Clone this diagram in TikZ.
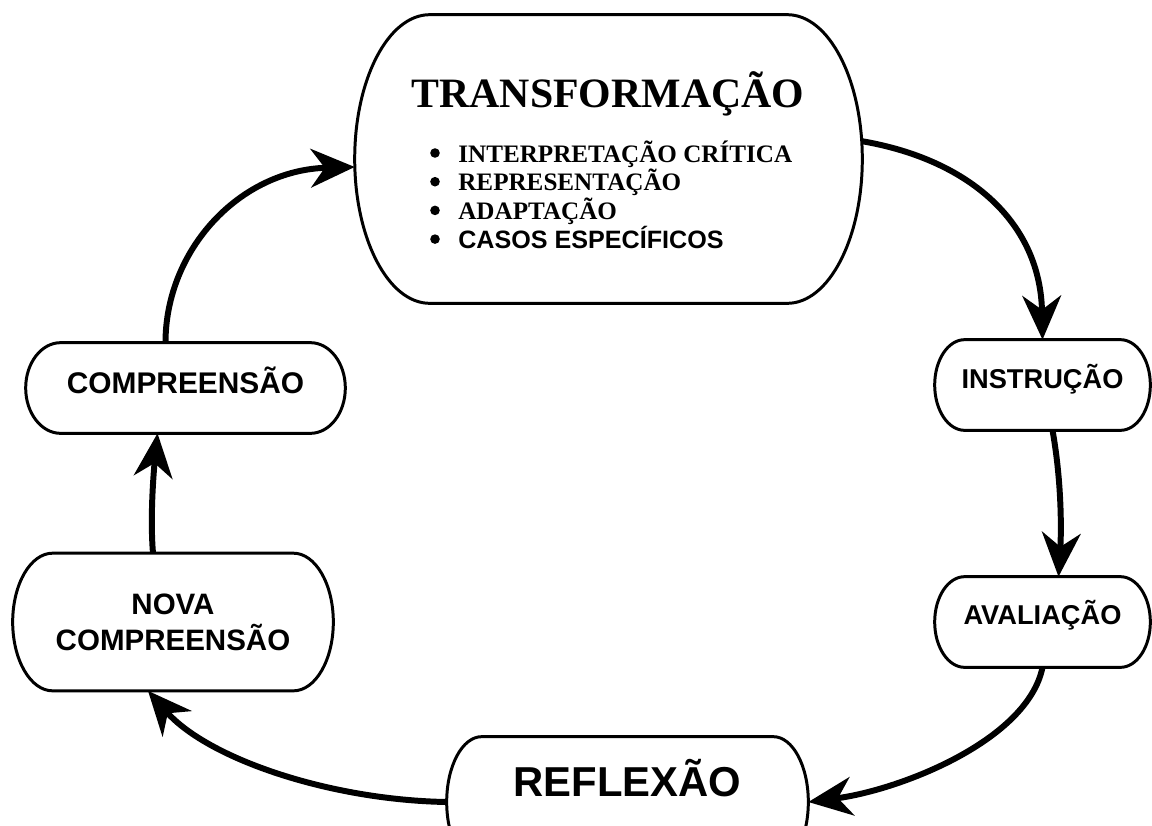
\documentclass[tikz,border=0pt]{standalone}
\usepackage{fontspec}
\setmainfont{Liberation Serif}
\setsansfont{Liberation Sans}
\usetikzlibrary{arrows.meta,calc}

% outline with elliptic ends round a node
\newcommand{\termline}[2]{%
  \draw[line width=1.7pt] let \p1=(#1.north west), \p2=(#1.south east), \n1={(\y1-\y2)/2} in
    (\x1+#2,\y1) -- (\x2-#2,\y1)
    arc[start angle=90,end angle=-90,x radius=#2,y radius=\n1]
    -- (\x1+#2,\y2)
    arc[start angle=270,end angle=90,x radius=#2,y radius=\n1] -- cycle;}

\begin{document}
\begin{tikzpicture}[x=0.02cm,y=-0.02cm,
    box/.style={inner sep=0pt,font=\sffamily\bfseries},
    flow/.style={line width=3.4pt,-{Stealth[length=25pt,width=22pt,inset=8pt]}}]
    \clip (0,0) rectangle (1152,825);
    \node[box,minimum width=10.14cm,minimum height=5.76cm] (trans) at (608.5,159) {};
    \node[anchor=base,font=\fontsize{23.8}{28}\selectfont\bfseries] (transtitle) at (608,107) {TRANSFORMAÇÃO};
    \foreach \txt [count=\i] in {INTERPRETAÇÃO CRÍTICA, REPRESENTAÇÃO, ADAPTAÇÃO, \sffamily CASOS ESPECÍFICOS}{
    \node[anchor=base west,inner sep=0pt,font=\fontsize{14.3}{16}\selectfont\bfseries] (item\i) at (458,133.3+28.7*\i) {\txt};
    \fill ($(item\i.base west)+(-23,-9)$) circle[radius=4.8];
    }
    \node[box,minimum width=6.38cm,minimum height=1.8cm,font=\fontsize{17}{19}\selectfont\sffamily\bfseries,text height=12.2pt,text depth=6.2pt] (comp) at (185.5,388) {COMPREENSÃO};
    \node[box,minimum width=4.3cm,minimum height=1.8cm,font=\fontsize{15.5}{18}\selectfont\sffamily\bfseries,text height=11pt,text depth=6.8pt] (instr) at (1042.5,385) {INSTRUÇÃO};
    \node[box,minimum width=4.3cm,minimum height=1.8cm,font=\fontsize{15.5}{18}\selectfont\sffamily\bfseries,text height=11pt,text depth=8.5pt] (aval) at (1042.5,622) {AVALIAÇÃO};
    \node[box,minimum width=6.4cm,minimum height=2.74cm,align=center,font=\fontsize{16.8}{20.4}\selectfont\sffamily\bfseries] (nova) at (173,622) {NOVA\\COMPREENSÃO};
    \node[box,minimum width=7.22cm,minimum height=2.6cm,font=\fontsize{23.8}{28}\selectfont\sffamily\bfseries,text height=17pt,text depth=23.8pt] (refl) at (627.5,802) {REFLEXÃO};
    \termline{trans}{1.5cm}
    \termline{comp}{0.7cm}
    \termline{instr}{0.6cm}
    \termline{aval}{0.6cm}
    \termline{nova}{0.8cm}
    \termline{refl}{0.7cm}
    % the cycle
    \draw[flow] (trans.4) .. controls +(110,19) and +(-2,-115) .. (instr.north);
    \draw[flow] ([xshift=0.2cm]instr.south) .. controls +(9,50) and +(3,-47) .. ([xshift=0.32cm]aval.north);
    \draw[flow] (aval.south) .. controls +(-15,73) and +(92,-12) .. (refl.east);
    \draw[flow] (refl.west) .. controls +(-117,-2) and +(60,68) .. ([xshift=-0.5cm]nova.south);
    \draw[flow] ([xshift=-0.4cm]nova.north) .. controls +(-3,-35) and +(-4,40) .. ([xshift=-0.56cm]comp.south);
    \draw[flow] ([xshift=-0.4cm]comp.north) .. controls +(0,-93) and +(-115,3) .. ([yshift=-0.16cm]trans.west);
\end{tikzpicture}
\end{document}
